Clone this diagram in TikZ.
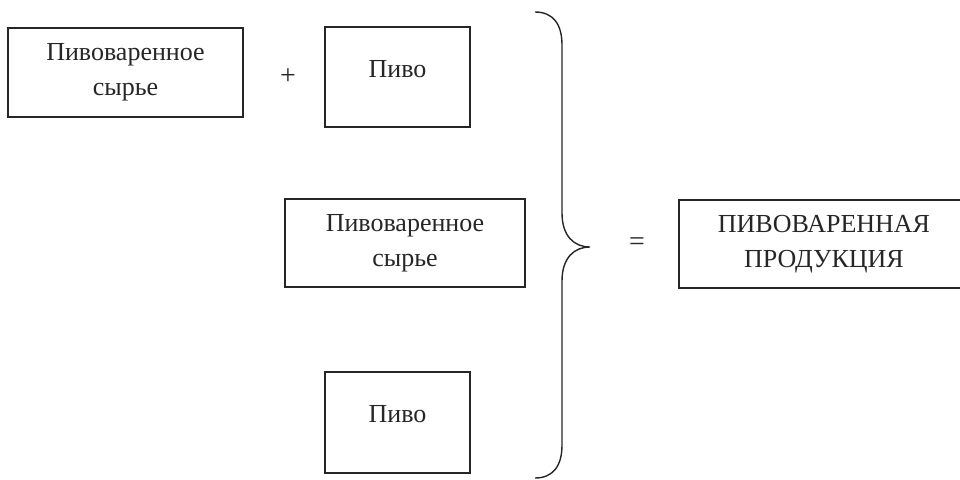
\documentclass[tikz,border=0pt]{standalone}
\usepackage{fontspec}
\setmainfont{Liberation Serif}
\usepackage{tikz}

\definecolor{ink}{HTML}{262626}

\begin{document}
\begin{tikzpicture}[x=1pt, y=-1pt,
    block/.style={draw=ink, line width=1.3pt, text=ink, align=center,
      inner sep=0pt, font=\fontsize{26}{35}\selectfont},
    single/.style={text height=17pt, text depth=17pt},
    sign/.style={text=ink, inner sep=0pt, font=\fontsize{28}{30}\selectfont}]
  \useasboundingbox (0,0) rectangle (960,479);

  \node[block, minimum width=235pt, minimum height=89pt] (raw1) at (125.5,72.5) {Пивоваренное\\сырье};
  \node[sign] (plus) at (288,77) {+};
  \node[block, single, minimum width=145pt, minimum height=100pt] (beer1) at (397.5,77) {Пиво};
  \node[block, minimum width=240pt, minimum height=88pt] (raw2) at (405,243) {Пивоваренное\\сырье};
  \node[block, single, minimum width=145pt, minimum height=101pt] (beer2) at (397.5,422.5) {Пиво};
  \node[sign] (eq) at (637,244) {=};
  \node[block, minimum width=290pt, minimum height=88pt] (product) at (824,244) {ПИВОВАРЕННАЯ\\ПРОДУКЦИЯ};

  % brace
  \draw[ink, line width=1.4pt] (535,12) .. controls (553,12) and (562,24) .. (562,45)
    -- (562,213) .. controls (562,236) and (574,247) .. (590,247)
    .. controls (574,247) and (562,258) .. (562,281)
    -- (562,445) .. controls (562,466) and (553,478) .. (535,478);
\end{tikzpicture}
\end{document}
